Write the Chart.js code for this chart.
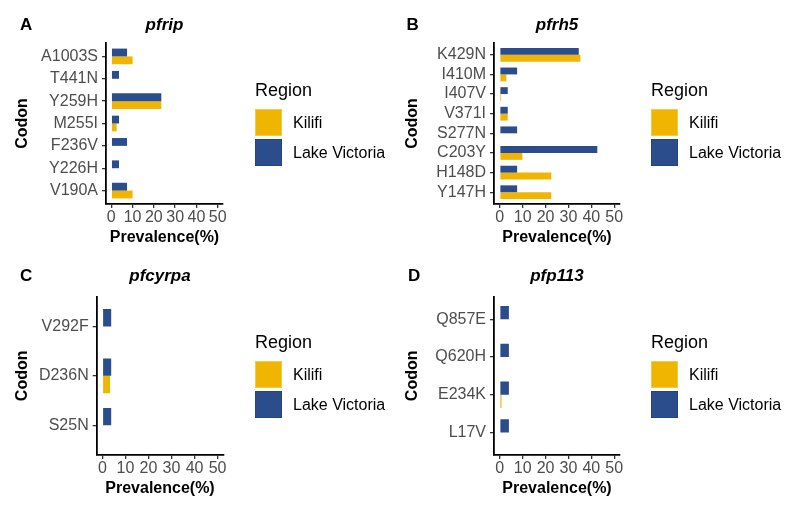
<!DOCTYPE html>
<html>
<head>
<meta charset="utf-8">
<script src="https://cdn.jsdelivr.net/npm/chart.js@4.4.1/dist/chart.umd.min.js"></script>
<style>
  body { margin: 0; background: #fff; }
  #fig { position: relative; width: 800px; height: 518px; background: #fff; font-family: "Liberation Sans", Arial, sans-serif; overflow: hidden; }
  #fig canvas { position: absolute; }
  .lbl { position: absolute; white-space: nowrap; line-height: 20px; height: 20px; color: #000; }
  .tag { font-weight: bold; font-size: 17px; }
  .ttl { font-weight: bold; font-style: italic; font-size: 17px; transform: translateX(-50%); }
  .reg { font-size: 18px; }
  .key { position: absolute; width: 27px; height: 27px; box-sizing: border-box; }
  .ktxt { font-size: 16px; }
</style>
</head>
<body>
<div id="fig"></div>
<script>
// tick values and region names
const prevalenceTicks = [0, 10, 20, 30, 40, 50];
const regions = ['Kilifi', 'Lake Victoria'];
const kilifiColor = '#efb500';
const lakeColor = '#2b4d8c';

// A - pfrip
const pfripCodons = ['A1003S', 'T441N', 'Y259H', 'M255I', 'F236V', 'Y226H', 'V190A'];
const pfripLake = [7.4, 3.6, 23.5, 3.6, 7.4, 3.6, 7.4];
const pfripKilifi = [10, null, 23.5, 2.5, null, null, 10];

// B - pfrh5
const pfrh5Codons = ['K429N', 'I410M', 'I407V', 'V371I', 'S277N', 'C203Y', 'H148D', 'Y147H'];
const pfrh5Lake = [34.5, 7.6, 3.5, 3.5, 7.6, 42.6, 7.6, 7.6];
const pfrh5Kilifi = [35.2, 2.9, 0.6, 3.5, null, 9.9, 22.5, 22.5];

// C - pfcyrpa
const pfcyrpaCodons = ['V292F', 'D236N', 'S25N'];
const pfcyrpaLake = [3.8, 3.8, 3.8];
const pfcyrpaKilifi = [null, 3.3, null];

// D - pfp113
const pfp113Codons = ['Q857E', 'Q620H', 'E234K', 'L17V'];
const pfp113Lake = [4.0, 4.0, 4.0, 4.0];
const pfp113Kilifi = [null, null, 0.8, null];

const fig = document.getElementById('fig');

function addText(cls, text, x, cy) {
    const d = document.createElement('div');
    d.className = 'lbl ' + cls;
    d.textContent = text;
    d.style.left = x + 'px';
    d.style.top = (cy - 10) + 'px';
    fig.appendChild(d);
}

function addLegend(x, cy) {
    addText('reg', 'Region', x, cy);
    const cols = [kilifiColor, lakeColor];
    regions.forEach(function (name, i) {
        const k = document.createElement('div');
        k.className = 'key';
        k.style.left = x + 'px';
        k.style.top = (cy + 19.3 + i * 30) + 'px';
        k.style.background = cols[i];
        k.style.border = '1px solid ' + (i === 0 ? '#f3c94a' : '#24448a');
        fig.appendChild(k);
        addText('ktxt', name, x + 38, cy + 33 + i * 30);
    });
}

// codon index on a linear axis so the ends get ggplot's 0.6 expansion
function toPoints(values) {
    return values.map((v, i) => ({ x: v, y: i }));
}

// box: canvas place + where the plot panel should sit (page coords)
function makePanel(labels, lake, kilifi, box) {
    const cv = document.createElement('canvas');
    cv.width = box.w;
    cv.height = box.h;
    cv.style.left = box.x + 'px';
    cv.style.top = box.y + 'px';
    fig.appendChild(cv);

    const padLeft = 13.4;
    const titleCenter = box.axisY + 34;
    const padBottom = (box.y + box.h) - (titleCenter + 9.6);
    const yWidth = box.axisX - box.x - padLeft;
    const xHeight = (box.y + box.h - padBottom) - box.axisY;

    new Chart(cv.getContext('2d'), {
        type: 'bar',
        data: {
            datasets: [
                { label: 'Lake Victoria', data: toPoints(lake), backgroundColor: lakeColor, borderWidth: 0 },
                { label: 'Kilifi', data: toPoints(kilifi), backgroundColor: kilifiColor, borderWidth: 0 }
            ]
        },
        options: {
            indexAxis: 'y',
            responsive: false,
            animation: false,
            layout: {
                padding: {
                    left: padLeft,
                    top: box.top - box.y,
                    right: (box.x + box.w) - box.right,
                    bottom: padBottom
                }
            },
            datasets: { bar: { categoryPercentage: 0.7, barPercentage: 1.0 } },
            scales: {
                x: {
                    type: 'linear',
                    min: -2.5,
                    max: 52.5,
                    afterBuildTicks: function (s) { s.ticks = prevalenceTicks.map(v => ({ value: v })); },
                    afterFit: function (s) { s.height = xHeight; },
                    grid: { display: true, drawOnChartArea: false, drawTicks: true, tickLength: 4, color: '#333', lineWidth: 1.3 },
                    border: { display: true, color: '#000', width: 1.8 },
                    ticks: { autoSkip: false, maxRotation: 0, padding: 0, color: '#4d4d4d', font: { family: 'Liberation Sans', size: 16 } },
                    title: { display: true, text: 'Prevalence(%)', color: '#000', padding: 0, font: { family: 'Liberation Sans', size: 16, weight: 'bold' } }
                },
                y: {
                    type: 'linear',
                    reverse: true,
                    min: -0.6,
                    max: labels.length - 0.4,
                    offset: false,
                    afterBuildTicks: function (s) { s.ticks = labels.map((l, i) => ({ value: i })); },
                    afterFit: function (s) { s.width = yWidth; },
                    grid: { display: true, offset: false, drawOnChartArea: false, drawTicks: true, tickLength: 4, color: '#333', lineWidth: 1.3 },
                    border: { display: true, color: '#000', width: 1.8 },
                    ticks: {
                        autoSkip: false, padding: 4, color: '#4d4d4d',
                        font: { family: 'Liberation Sans', size: 16 },
                        callback: function (v) { return labels[v]; }
                    },
                    title: { display: true, text: 'Codon', color: '#000', padding: 0, font: { family: 'Liberation Sans', size: 16, weight: 'bold' } }
                }
            },
            plugins: {
                legend: { display: false },
                tooltip: { enabled: false },
                title: { display: false }
            }
        }
    });

    addText('tag', box.tag, box.tagX, box.tagY);
    addText('ttl', box.title, (box.axisX + box.right) / 2, box.tagY);
    addLegend(box.legX, box.legY);
}

makePanel(pfripCodons, pfripLake, pfripKilifi,
    { x: 0, y: 0, w: 390, h: 259, axisX: 106, top: 43, axisY: 204, right: 223,
      tag: 'A', tagX: 20, tagY: 25, title: 'pfrip', legX: 255, legY: 90 });
makePanel(pfrh5Codons, pfrh5Lake, pfrh5Kilifi,
    { x: 390, y: 0, w: 410, h: 259, axisX: 494, top: 43, axisY: 204, right: 620,
      tag: 'B', tagX: 406.5, tagY: 25, title: 'pfrh5', legX: 651, legY: 90 });
makePanel(pfcyrpaCodons, pfcyrpaLake, pfcyrpaKilifi,
    { x: 0, y: 259, w: 390, h: 259, axisX: 96.7, top: 296.7, axisY: 455, right: 223.3,
      tag: 'C', tagX: 20, tagY: 276, title: 'pfcyrpa', legX: 255, legY: 341.7 });
makePanel(pfp113Codons, pfp113Lake, pfp113Kilifi,
    { x: 390, y: 259, w: 410, h: 259, axisX: 494, top: 296.7, axisY: 455, right: 620,
      tag: 'D', tagX: 408, tagY: 276, title: 'pfp113', legX: 651, legY: 341.7 });
</script>
</body>
</html>
